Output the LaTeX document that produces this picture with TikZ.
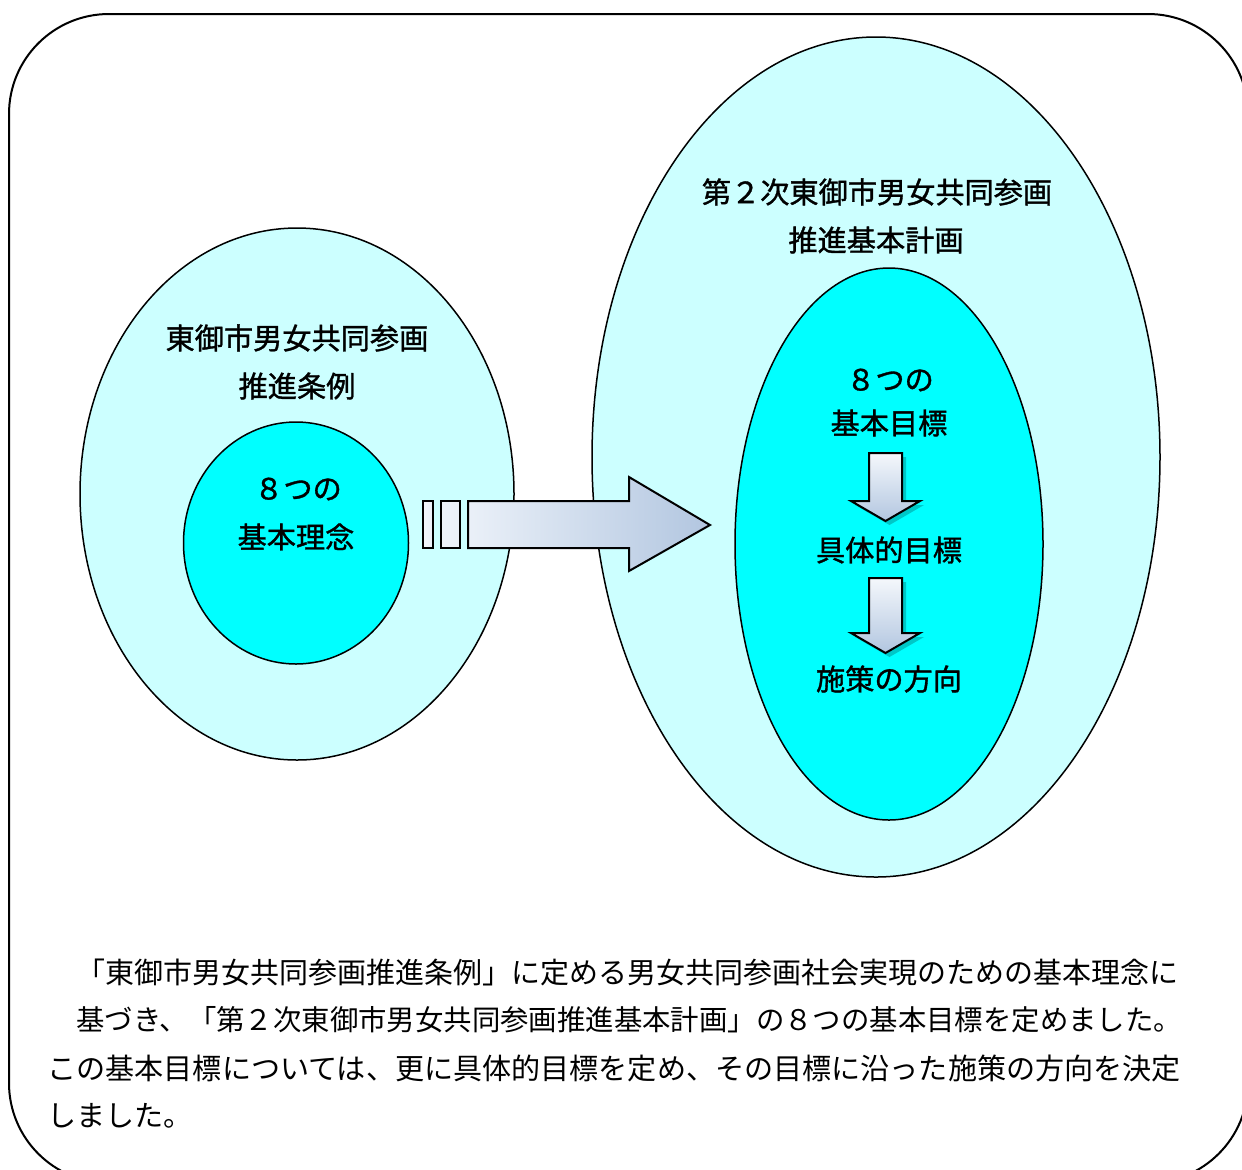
\documentclass[tikz,border=0pt]{standalone}
\usepackage{fontspec}
\newfontfamily\jp{Noto Sans CJK JP}
\newfontfamily\jpb[FakeBold=1.2]{Noto Sans CJK JP}
\usetikzlibrary{shapes.geometric}
\definecolor{lcyan}{HTML}{CCFFFF}
\definecolor{dcyan}{HTML}{00FFFF}
\definecolor{arL}{HTML}{EAF0F8}
\definecolor{arR}{HTML}{B2C6E0}
\begin{document}
\begin{tikzpicture}[x=0.5pt,y=-0.5pt,
  lbl/.style={font=\jpb\fontsize{14.6pt}{20pt}\selectfont, inner sep=0},
  ell/.style={draw, ellipse, line width=0.75pt, inner sep=0},
  blk/.style={draw, line width=1pt, line join=miter},
  shd/.style={fill=black, opacity=0.22}]
\useasboundingbox (0,0) rectangle (1242,1169);
\clip (0,0) rectangle (1242,1169);
% frame
\draw[line width=1pt, rounded corners=50pt] (9,14) rectangle (1248,1183);
% ellipses
\node[ell, fill=lcyan, minimum width=217pt, minimum height=266pt] (lo) at (297,494) {};
\node[ell, fill=dcyan, minimum width=112.5pt, minimum height=121pt] (li) at (296,543) {};
\node[ell, fill=lcyan, minimum width=284pt, minimum height=420pt] (ro) at (876,457) {};
\node[ell, fill=dcyan, minimum width=154pt, minimum height=276pt] (ri) at (889,544) {};
% big arrow
\path[blk, left color=arL!60!white, right color=arL] (423,501) rectangle (433,548);
\path[blk, left color=arL!80!white, right color=arL] (441,501) rectangle (460,548);
\path[blk, left color=arL, right color=arR] (468,501) -- (629,501) -- (629,477) -- (710,525) -- (629,571) -- (629,548) -- (468,548) -- cycle;
% small arrows
\fill[shd] (873,457) -- (906,457) -- (906,505) -- (924,505) -- (889.5,525) -- (855,505) -- (873,505) -- cycle;
\path[blk, top color=arL!50!white, bottom color=arR] (869,453) -- (902,453) -- (902,501) -- (920,501) -- (885.5,521) -- (851,501) -- (869,501) -- cycle;
\fill[shd] (873,582) -- (906,582) -- (906,637) -- (924,637) -- (889.5,657) -- (855,637) -- (873,637) -- cycle;
\path[blk, top color=arL!50!white, bottom color=arR] (869,578) -- (902,578) -- (902,633) -- (920,633) -- (885.5,653) -- (851,633) -- (869,633) -- cycle;
% labels
\node[lbl] (t1) at (297,338) {東御市男女共同参画};
\node[lbl] (t2) at (297,386) {推進条例};
\node[lbl] (t3) at (298,489) {８つの};
\node[lbl] (t4) at (296,537) {基本理念};
\node[lbl] (t5) at (877,192) {第２次東御市男女共同参画};
\node[lbl] (t6) at (876,240) {推進基本計画};
\node[lbl] (t7) at (890,380) {８つの};
\node[lbl] (t8) at (889,423) {基本目標};
\node[lbl] (t9) at (889,550) {具体的目標};
\node[lbl] (t10) at (889,679) {施策の方向};
% body text
\node[anchor=west, inner sep=0, font=\jp\fontsize{14.5pt}{20pt}\selectfont] (p1) at (76,972) {「東御市男女共同参画推進条例」に定める男女共同参画社会実現のための基本理念に};
\node[anchor=west, inner sep=0, font=\jp\fontsize{14.2pt}{20pt}\selectfont] (p2) at (76,1020) {基づき、「第２次東御市男女共同参画推進基本計画」の８つの基本目標を定めました。};
\node[anchor=west, inner sep=0, font=\jp\fontsize{14.55pt}{20pt}\selectfont] (p3) at (47,1068) {この基本目標については、更に具体的目標を定め、その目標に沿った施策の方向を決定};
\node[anchor=west, inner sep=0, font=\jp\fontsize{14.55pt}{20pt}\selectfont] (p4) at (47,1116) {しました。};
\end{tikzpicture}
\end{document}
